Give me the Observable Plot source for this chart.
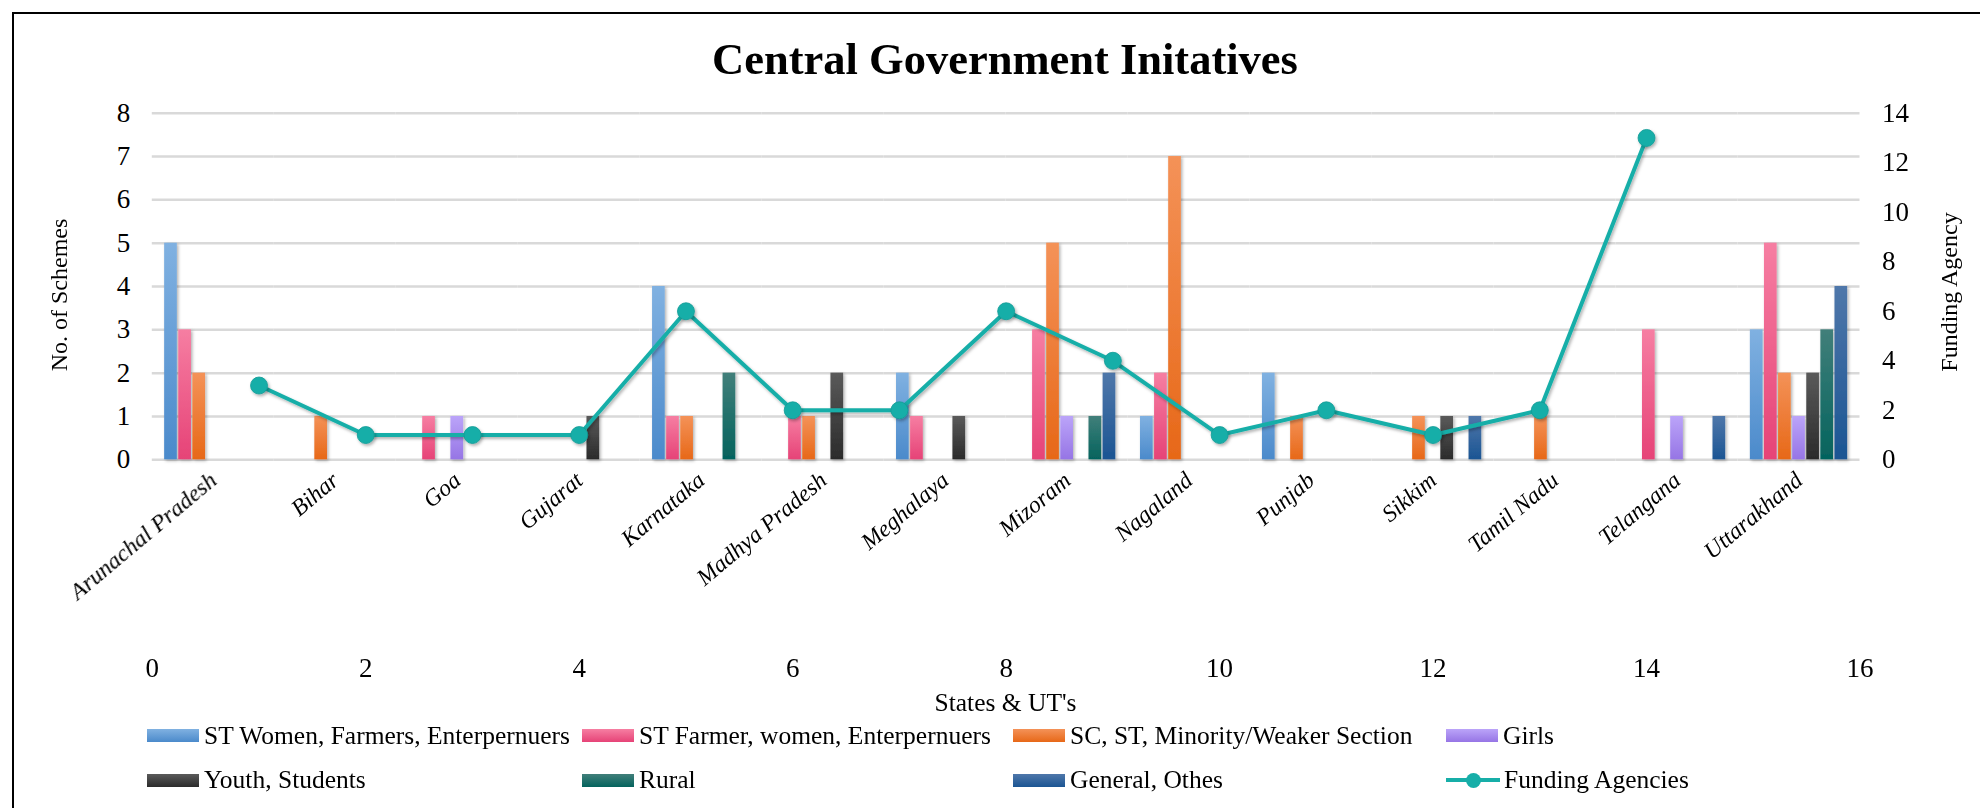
<!DOCTYPE html>
<html>
<head>
<meta charset="utf-8">
<script src="https://cdn.jsdelivr.net/npm/d3@7"></script>
<script src="https://cdn.jsdelivr.net/npm/@observablehq/plot@0.6"></script>
<style>
html, body { margin: 0; padding: 0; background: #fff; }
#chart { position: relative; width: 1980px; height: 808px; overflow: hidden; font-family: "Liberation Serif", "Times New Roman", serif; color: #000; background: #fff; }
#chart svg { position: absolute; left: 0; top: 0; }
.frame { position: absolute; left: 11.5px; top: 11.5px; width: 2100px; height: 900px; border-left: 2.6px solid #000; border-top: 2.6px solid #000; box-sizing: border-box; }
.title { position: absolute; left: 1005px; top: 29px; transform: translateX(-50%); font-size: 44.5px; font-weight: bold; line-height: 60px; white-space: nowrap; }
.rot { position: absolute; transform: translate(-50%, -50%) rotate(-90deg); font-size: 24px; line-height: 24px; white-space: nowrap; }
.xtitle { position: absolute; transform: translate(-50%, -50%); font-size: 25.5px; line-height: 30px; white-space: nowrap; }
.li { position: absolute; height: 30px; display: flex; align-items: center; font-size: 25.5px; line-height: 30px; white-space: nowrap; }
.sw { display: inline-block; width: 52px; height: 13px; margin-right: 5px; }
.swl { position: relative; display: inline-block; width: 54px; height: 16px; margin-right: 4px; }
</style>
</head>
<body>
<div id="chart"></div>
<script>
// ---------------- data ----------------
const states = ["Arunachal Pradesh", "Bihar", "Goa", "Gujarat", "Karnataka", "Madhya Pradesh", "Meghalaya",
  "Mizoram", "Nagaland", "Punjab", "Sikkim", "Tamil Nadu", "Telangana", "Uttarakhand"];

const seriesNames = ["ST Women, Farmers, Enterpernuers", "ST Farmer, women, Enterpernuers",
  "SC, ST, Minority/Weaker Section", "Girls", "Youth, Students", "Rural", "General, Othes"];

const stWomen    = [5, 0, 0, 0, 4, 0, 2, 0, 1, 2, 0, 0, 0, 3];
const stFarmer   = [3, 0, 1, 0, 1, 1, 1, 3, 2, 0, 0, 0, 3, 5];
const scSt       = [2, 1, 0, 0, 1, 1, 0, 5, 7, 1, 1, 1, 0, 2];
const girls      = [0, 0, 1, 0, 0, 0, 0, 1, 0, 0, 0, 0, 1, 1];
const youth      = [0, 0, 0, 1, 0, 2, 1, 0, 0, 0, 1, 0, 0, 2];
const rural      = [0, 0, 0, 0, 2, 0, 0, 1, 0, 0, 0, 0, 0, 3];
const general    = [0, 0, 0, 0, 0, 0, 0, 2, 0, 0, 1, 0, 1, 4];
const seriesValues = [stWomen, stFarmer, scSt, girls, youth, rural, general];

const fundingX = [1, 2, 3, 4, 5, 6, 7, 8, 9, 10, 11, 12, 13, 14];
const fundingAgencies = [3, 1, 1, 1, 6, 2, 2, 6, 4, 1, 2, 1, 2, 13];

const leftTicks = [0, 1, 2, 3, 4, 5, 6, 7, 8];
const rightTicks = [0, 2, 4, 6, 8, 10, 12, 14];
const bottomTicks = [0, 2, 4, 6, 8, 10, 12, 14, 16];

// gradient colours (top, bottom) per series
const seriesColors = [
  ["#80b1e1", "#4b8acb"],
  ["#f67ea2", "#e64377"],
  ["#f49258", "#e76818"],
  ["#bba4f9", "#9675e5"],
  ["#5a5a5a", "#2b2b2b"],
  ["#417f7a", "#04635d"],
  ["#4f77aa", "#1b5593"]
];
const lineColor = "#17aea8";

// ---------------- layout ----------------
const W = 1980, H = 808;
const ML = 151.8, MR = W - 1859.5, MT = 112.7, MB = H - 459.3;
const font = "Liberation Serif, Times New Roman, serif";
const tickFont = 27;

const rows = [];
states.forEach((s, i) => seriesValues.forEach((vals, j) => {
  if (vals[i] > 0) rows.push({state: s, series: seriesNames[j], value: vals[i]});
}));
const pts = fundingX.map((x, i) => ({x, y: fundingAgencies[i]}));

const chart = document.getElementById("chart");

// ---------------- bars layer ----------------
const bars = Plot.plot({
  width: W, height: H,
  marginLeft: ML, marginRight: MR, marginTop: MT, marginBottom: MB,
  style: {background: "transparent", fontFamily: font, fontSize: "24px", color: "#000", overflow: "visible"},
  fx: {domain: states, padding: 0, round: false, axis: null},
  x: {domain: seriesNames, paddingInner: 0.1, paddingOuter: 0.875, round: false, axis: null},
  y: {domain: [0, 8]},
  color: {type: "ordinal", domain: seriesNames, range: seriesNames.map((d, i) => `url(#grad${i})`)},
  marks: [
    Plot.gridY(leftTicks, {stroke: "#d9d9d9", strokeOpacity: 1, strokeWidth: 2.5}),
    Plot.axisY(leftTicks, {tickSize: 0, tickPadding: 22, fontSize: tickFont, label: null}),
    Plot.barY(rows, {fx: "state", x: "series", y: "value", fill: "series"}),
    Plot.text(states, {fx: d => d, text: d => d, frameAnchor: "bottom", textAnchor: "end",
      rotate: -40, dx: 5, dy: 23, fontStyle: "italic", fontSize: 23.5, fill: "#000"})
  ]
});
const ns = "http://www.w3.org/2000/svg";
const defs = document.createElementNS(ns, "defs");
seriesColors.forEach(([top, bottom], i) => {
  const g = document.createElementNS(ns, "linearGradient");
  g.setAttribute("id", `grad${i}`);
  g.setAttribute("x1", "0"); g.setAttribute("y1", "0"); g.setAttribute("x2", "0"); g.setAttribute("y2", "1");
  [[0, top], [1, bottom]].forEach(([o, c]) => {
    const s = document.createElementNS(ns, "stop");
    s.setAttribute("offset", o); s.setAttribute("stop-color", c);
    g.appendChild(s);
  });
  defs.appendChild(g);
});
const f = document.createElementNS(ns, "filter");
f.setAttribute("id", "shadow"); f.setAttribute("x", "-30%"); f.setAttribute("y", "-10%");
f.setAttribute("width", "160%"); f.setAttribute("height", "120%");
f.innerHTML = '<feDropShadow dx="1.5" dy="1.5" stdDeviation="1.6" flood-color="#000" flood-opacity="0.3"/>';
defs.appendChild(f);
bars.insertBefore(defs, bars.firstChild);
bars.querySelectorAll('g[aria-label="bar"]').forEach(g => g.setAttribute("filter", "url(#shadow)"));
chart.appendChild(bars);

// ---------------- line layer ----------------
const line = Plot.plot({
  width: W, height: H,
  marginLeft: ML, marginRight: MR, marginTop: MT, marginBottom: MB,
  style: {background: "transparent", fontFamily: font, fontSize: "24px", color: "#000", overflow: "visible"},
  x: {domain: [0, 16]},
  y: {domain: [0, 14]},
  marks: [
    Plot.axisX(bottomTicks, {tickSize: 0, tickPadding: 198.5, fontSize: tickFont, label: null}),
    Plot.axisY(rightTicks, {anchor: "right", tickSize: 0, tickPadding: 22, fontSize: tickFont, label: null}),
    Plot.line(pts, {x: "x", y: "y", stroke: lineColor, strokeWidth: 4}),
    Plot.dot(pts, {x: "x", y: "y", r: 8.5, fill: lineColor, stroke: "#139a95", strokeWidth: 0.8})
  ]
});
const defs2 = document.createElementNS(ns, "defs");
defs2.innerHTML = '<filter id="shadow2" x="-10%" y="-10%" width="120%" height="130%"><feDropShadow dx="1.5" dy="2" stdDeviation="1.8" flood-color="#000" flood-opacity="0.3"/></filter>';
line.insertBefore(defs2, line.firstChild);
line.querySelectorAll('g[aria-label="line"], g[aria-label="dot"]').forEach(g => g.setAttribute("filter", "url(#shadow2)"));
chart.appendChild(line);

// ---------------- html text ----------------
function addDiv(cls, html, style) {
  const d = document.createElement("div");
  d.className = cls; d.innerHTML = html; Object.assign(d.style, style || {});
  chart.appendChild(d); return d;
}
addDiv("frame", "");
addDiv("title", "Central Government Initatives");
addDiv("rot", "No. of Schemes", {left: "59px", top: "295px"});
addDiv("rot", "Funding Agency", {left: "1949px", top: "292px"});
addDiv("xtitle", "States &amp; UT's", {left: "1005.5px", top: "703px"});

const colLeft = [147, 582, 1013, 1446];
const rowCy = [735.7, 780];
const legendItems = seriesNames.map((name, i) => ({name, i})).concat([{name: "Funding Agencies", i: -1}]);
legendItems.forEach((it, k) => {
  const r = Math.floor(k / 4), c = k % 4;
  let sw;
  if (it.i >= 0) {
    const [top, bottom] = seriesColors[it.i];
    sw = `<span class="sw" style="background:linear-gradient(to bottom, ${top}, ${bottom})"></span>`;
  } else {
    sw = `<span class="swl"><span style="position:absolute;left:0;top:6px;width:54px;height:4px;background:${lineColor}"></span>` +
         `<span style="position:absolute;left:19.5px;top:0.5px;width:15px;height:15px;border-radius:50%;background:${lineColor}"></span></span>`;
  }
  addDiv("li", sw + `<span>${it.name}</span>`, {left: colLeft[c] + "px", top: (rowCy[r] - 15) + "px"});
});
</script>
</body>
</html>
